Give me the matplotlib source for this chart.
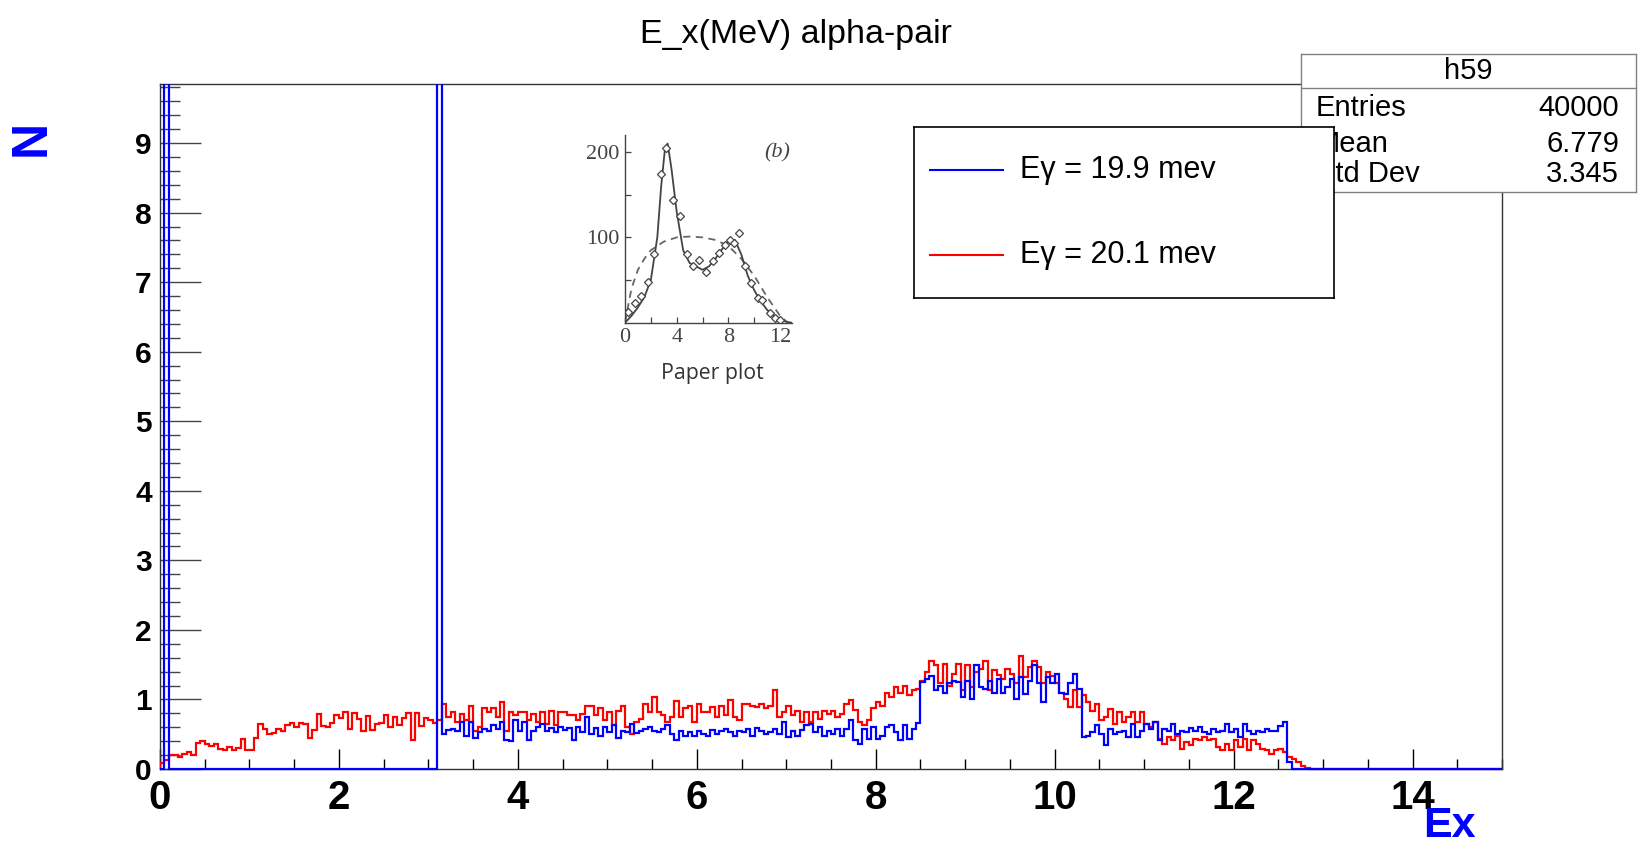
import numpy as np
import matplotlib
matplotlib.use("Agg")
import matplotlib.pyplot as plt
from matplotlib.ticker import MultipleLocator, FixedLocator
from matplotlib.patches import Rectangle

plt.rcParams['font.family'] = ['Liberation Sans', 'DejaVu Sans']

# ---------------- data ----------------
x_min, x_max, n_bins = 0.0, 15.0, 300
y_max = 9.85

# E_gamma = 20.1 MeV (red), bin width 0.05 starting at 0
red_counts = [
    0.08, 0.13, 0.20, 0.20, 0.17, 0.22, 0.25, 0.20, 0.37, 0.40,
    0.36, 0.33, 0.36, 0.29, 0.27, 0.31, 0.27, 0.30, 0.43, 0.27,
    0.28, 0.44, 0.65, 0.58, 0.50, 0.52, 0.58, 0.55, 0.63, 0.66,
    0.60, 0.66, 0.65, 0.45, 0.56, 0.79, 0.62, 0.60, 0.66, 0.77,
    0.74, 0.82, 0.58, 0.80, 0.72, 0.55, 0.76, 0.56, 0.64, 0.66,
    0.77, 0.60, 0.75, 0.63, 0.74, 0.80, 0.41, 0.80, 0.62, 0.74,
    0.70, 0.66, 0.70,
    0.94, 0.75, 0.82, 0.67, 0.79, 0.70, 0.91, 0.55, 0.60, 0.87,
    0.82, 0.87, 0.75, 0.96, 0.55, 0.82, 0.77, 0.82, 0.82, 0.70,
    0.79, 0.67, 0.82, 0.65, 0.84, 0.63, 0.82, 0.82, 0.77, 0.77,
    0.70, 0.79, 0.91, 0.91, 0.77, 0.87, 0.70, 0.82, 0.63, 0.84,
    0.91, 0.60, 0.50, 0.67, 0.72, 0.93, 0.82, 1.03, 0.82, 0.77,
    0.67, 0.75, 0.98, 0.75, 0.87, 0.91, 0.67, 0.93, 0.82, 0.82,
    0.89, 0.75, 0.91, 0.77,
    0.99, 0.75, 0.70, 0.94, 0.94, 0.91, 0.89, 0.94, 0.87, 0.91,
    1.13, 0.75, 0.82, 0.91, 0.77, 0.84, 0.67, 0.82, 0.67, 0.82,
    0.72, 0.84, 0.79, 0.84, 0.75, 0.79, 0.94, 0.99, 0.85, 0.67,
    0.63, 0.70, 0.87, 0.96, 0.91, 1.10, 1.03, 1.18, 1.10, 1.20,
    1.06, 1.13, 1.15, 1.27, 1.40, 1.56, 1.49, 1.23, 1.51, 1.20,
    1.37, 1.51, 1.13, 1.49, 1.18, 1.39, 1.44, 1.56, 1.13, 1.42,
    1.35,
    1.30, 1.44, 1.37, 1.23, 1.63, 1.32, 1.46, 1.56, 1.46, 1.23,
    1.39, 1.34, 1.23, 1.10, 1.01, 0.89, 1.13, 0.89, 1.06, 0.96,
    0.84, 0.94, 0.70, 0.75, 0.86, 0.65, 0.82, 0.67, 0.75, 0.82,
    0.67, 0.82, 0.65, 0.60, 0.67, 0.43, 0.36, 0.46, 0.41, 0.48,
    0.29, 0.39, 0.34, 0.43, 0.41, 0.46, 0.41, 0.43, 0.31, 0.27,
    0.36, 0.27, 0.41, 0.31, 0.43, 0.27, 0.41, 0.36, 0.29, 0.27,
    0.22, 0.27, 0.29, 0.24, 0.17, 0.15, 0.10, 0.05, 0.02,
]

# E_gamma = 19.9 MeV (blue); two spikes run far off the top of the frame
blue_counts = [0.0, 40.0] + [0.0] * 60 + [40.0] + [
    0.50, 0.56, 0.57, 0.55, 0.67, 0.47, 0.67, 0.45, 0.53, 0.58,
    0.55, 0.63, 0.58, 0.67, 0.42, 0.40, 0.70, 0.55, 0.67, 0.42,
    0.55, 0.60, 0.64, 0.55, 0.59, 0.53, 0.60, 0.56, 0.59, 0.42,
    0.60, 0.53, 0.75, 0.51, 0.59, 0.47, 0.60, 0.53, 0.63, 0.45,
    0.55, 0.53, 0.65, 0.52, 0.55, 0.58, 0.60, 0.55, 0.53, 0.58,
    0.63, 0.51, 0.41, 0.55, 0.48, 0.53, 0.47, 0.54, 0.51, 0.47,
    0.56, 0.50, 0.55, 0.58,
    0.53, 0.48, 0.55, 0.53, 0.58, 0.48, 0.59, 0.55, 0.50, 0.53,
    0.58, 0.51, 0.67, 0.46, 0.55, 0.47, 0.56, 0.63, 0.65, 0.53,
    0.60, 0.48, 0.55, 0.50, 0.58, 0.48, 0.58, 0.70, 0.41, 0.36,
    0.58, 0.43, 0.60, 0.43, 0.48, 0.60, 0.63, 0.53, 0.41, 0.63,
    0.43, 0.58, 0.66, 1.25, 1.30, 1.34, 1.13, 1.20, 1.10, 1.23,
    1.27, 1.25, 1.03, 1.27, 1.01, 1.49, 1.18, 1.15, 1.27, 1.10,
    1.30,
    1.10, 1.18, 1.30, 1.01, 1.32, 1.08, 1.27, 1.49, 1.23, 0.96,
    1.32, 1.23, 1.37, 1.10, 1.08, 1.23, 1.37, 1.15, 0.46, 0.48,
    0.53, 0.63, 0.51, 0.34, 0.58, 0.51, 0.53, 0.55, 0.46, 0.65,
    0.46, 0.55, 0.65, 0.58, 0.67, 0.41, 0.58, 0.55, 0.65, 0.51,
    0.55, 0.53, 0.59, 0.55, 0.60, 0.53, 0.50, 0.58, 0.53, 0.55,
    0.65, 0.53, 0.58, 0.46, 0.65, 0.55, 0.51, 0.55, 0.53, 0.58,
    0.55, 0.55, 0.62, 0.68, 0.10,
]

red_counts = red_counts + [0.0] * (n_bins - len(red_counts))
blue_counts = blue_counts + [0.0] * (n_bins - len(blue_counts))

legend_labels = ["E\u03b3 = 19.9 mev", "E\u03b3 = 20.1 mev"]
title_text = "E_x(MeV) alpha-pair"
x_title, y_title = "Ex", "N"
x_tick_values = [0, 2, 4, 6, 8, 10, 12, 14]
y_tick_values = [0, 1, 2, 3, 4, 5, 6, 7, 8, 9]

stats_name = "h59"
stats_rows = [("Entries", "40000"), ("Mean", "6.779"), ("Std Dev", "3.345")]

paper_fit_x = [0, 0.5, 1, 1.5, 2, 2.5, 2.8, 3.1, 3.3, 3.6, 4, 4.5, 5, 5.5, 6,
               6.5, 7, 7.5, 8, 8.5, 9, 9.5, 10, 10.5, 11, 11.5, 12, 12.5, 12.9]
paper_fit_y = [0, 8, 18, 30, 50, 100, 160, 205, 210, 180, 130, 85, 70, 66, 62,
               66, 75, 86, 95, 97, 80, 55, 38, 25, 15, 8, 4, 1, 0]
paper_ps_x = [0, 0.5, 1, 1.5, 2, 3, 4, 5, 6, 7, 8, 9, 10, 11, 12, 12.6]
paper_ps_y = [0, 40, 62, 75, 85, 95, 100, 101, 100, 97, 90, 75, 55, 30, 8, 0]
paper_pts_x = [0.2, 0.77, 1.2, 1.8, 2.27, 2.76, 3.17, 3.74, 4.25, 4.77, 5.23,
               5.75, 6.26, 6.78, 7.29, 7.73, 8.12, 8.45, 8.84, 9.28, 9.74,
               10.3, 10.6, 11.2, 11.6, 12.0]
paper_pts_y = [13, 23, 31, 48, 80, 174, 205, 144, 125, 80, 66, 74, 60, 72, 82,
               91, 97, 93, 105, 66, 46, 29, 27, 11, 5, 3]

# ---------------- layout helpers ----------------
W, H, DPI = 1638, 848, 100
def fx(px):
    return px / W
def fy(py):
    return 1.0 - py / H

fig = plt.figure(figsize=(W / DPI, H / DPI), dpi=DPI)
fig.patch.set_facecolor('white')

# ---------------- main axes ----------------
ax = fig.add_axes([fx(160), fy(769), fx(1502) - fx(160), fy(84) - fy(769)])
ax.set_xlim(x_min, x_max)
ax.set_ylim(0, y_max)
edges = np.linspace(x_min, x_max, n_bins + 1)

h_red = ax.stairs(red_counts, edges, color='#ff0000', lw=1.6, baseline=0, zorder=3)
h_blue = ax.stairs(blue_counts, edges, color='#0000ff', lw=1.6, baseline=0, zorder=4)
for h in (h_red, h_blue):
    h.set_clip_path(Rectangle((0, -0.01), 1, 1.01, transform=ax.transAxes))

ax.set_xticks(x_tick_values, labels=[str(v) for v in x_tick_values],
              fontsize=29, fontweight='bold')
ax.set_yticks(y_tick_values, labels=[str(v) for v in y_tick_values],
              fontsize=21.5, fontweight='bold')
ax.xaxis.set_minor_locator(MultipleLocator(0.5))
ax.yaxis.set_minor_locator(MultipleLocator(0.2))
ax.tick_params(axis='x', which='major', direction='in', length=14.4, width=1,
               pad=7, top=False, color='black')
ax.tick_params(axis='x', which='minor', direction='in', length=7.2, width=1,
               top=False, color='black')
ax.tick_params(axis='y', which='major', direction='in', length=29.5, width=1,
               pad=6, right=False, color='#444444')
ax.tick_params(axis='y', which='minor', direction='in', length=14.7, width=1,
               right=False, color='#444444')
for s in ax.spines.values():
    s.set_linewidth(1.0)
    s.set_color('#333333')

fig.text(fx(796), fy(35), title_text, ha='center', va='center', fontsize=24.5)
fig.text(fx(1476), fy(837), x_title, ha='right', va='baseline', fontsize=31,
         fontweight='bold', color='#0000ff')
fig.text(fx(31.7), fy(138), y_title, ha='center', va='center', rotation=90,
         fontsize=36, fontweight='bold', color='#0000ff')

# ---------------- inset (paper plot) ----------------
axi = fig.add_axes([fx(625), fy(322.7), fx(791.7) - fx(625), fy(135) - fy(322.7)])
axi.set_xlim(0, 12.9)
axi.set_ylim(0, 220)
axi.patch.set_alpha(0)
gray = '#444444'
axi.plot(paper_ps_x, paper_ps_y, ls=(0, (4, 3)), color='#666666', lw=1.3)
axi.plot(paper_fit_x, paper_fit_y, color=gray, lw=1.3)
axi.plot(paper_pts_x, paper_pts_y, ls='none', marker='D', ms=4, mfc='white',
         mec=gray, mew=0.9)
for side in ('top', 'right'):
    axi.spines[side].set_visible(False)
for side in ('left', 'bottom'):
    axi.spines[side].set_color(gray)
    axi.spines[side].set_linewidth(1.0)
axi.set_xticks([0, 4, 8, 12], labels=['0', '4', '8', '12'])
axi.set_yticks([100, 200], labels=['100', '200'])
axi.xaxis.set_minor_locator(FixedLocator([2, 6, 10]))
axi.yaxis.set_minor_locator(FixedLocator([50, 150]))
axi.tick_params(which='both', direction='in', length=4, width=0.9, color=gray,
                labelcolor=gray, labelsize=16, pad=4)
for lbl in axi.get_xticklabels() + axi.get_yticklabels():
    lbl.set_family(['Liberation Serif', 'DejaVu Serif'])
fig.text(fx(777), fy(153), '(b)', ha='center', va='center', fontsize=16,
         style='italic', family=['Liberation Serif', 'DejaVu Serif'], color=gray)
fig.text(fx(712), fy(374), 'Paper plot', ha='center', va='center',
         fontsize=15.3, family=['Open Sans', 'DejaVu Sans'], color='#333333')

# ---------------- stats box ----------------
axs = fig.add_axes([fx(1300.7), fy(191.7), fx(1636) - fx(1300.7), fy(54) - fy(191.7)])
axs.set_xlim(0, 1)
axs.set_ylim(0, 1)
axs.set_xticks([])
axs.set_yticks([])
axs.set_facecolor('white')
for s in axs.spines.values():
    s.set_color('#808080')
    s.set_linewidth(1.0)
axs.axhline(0.751, color='#808080', lw=1.0)
axs.text(0.5, 0.876, stats_name, ha='center', va='center', fontsize=21)
row_y = [0.605, 0.350, 0.128]
for (name, val), yy in zip(stats_rows, row_y):
    axs.text(0.045, yy, name, ha='left', va='center', fontsize=21)
    axs.text(0.95, yy, val, ha='right', va='center', fontsize=21)

# ---------------- legend ----------------
axl = fig.add_axes([fx(914), fy(298.3), fx(1334) - fx(914), fy(126.7) - fy(298.3)])
axl.set_xlim(0, 1)
axl.set_ylim(0, 1)
axl.set_xticks([])
axl.set_yticks([])
axl.set_facecolor('white')
for s in axl.spines.values():
    s.set_color('black')
    s.set_linewidth(1.2)
for yy, col, lab in zip([0.7477, 0.2523], ['#0000ff', '#ff0000'], legend_labels):
    axl.plot([0.038, 0.2126], [yy, yy], color=col, lw=1.5)
    axl.text(0.2524, yy, lab, ha='left', va='center', fontsize=22)

fig.savefig('out.png', dpi=DPI, facecolor='white')
